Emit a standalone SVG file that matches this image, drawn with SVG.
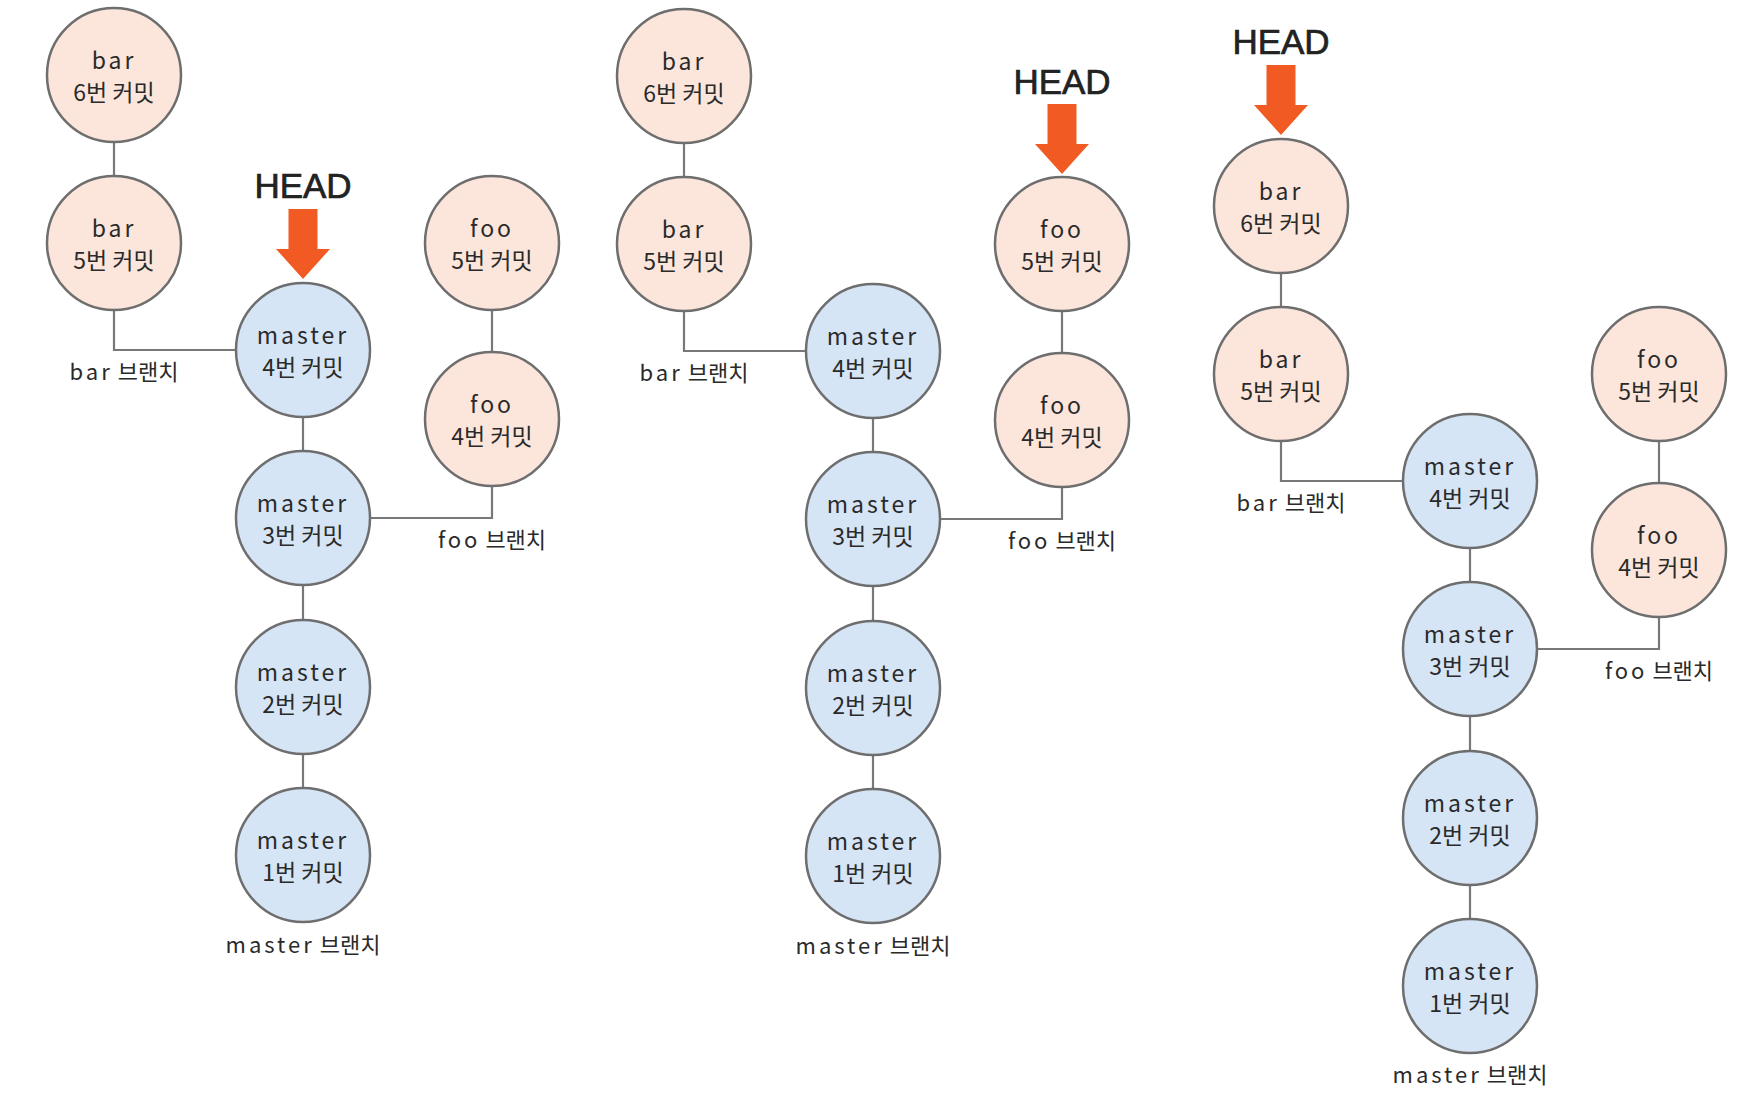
<svg xmlns="http://www.w3.org/2000/svg" width="1750" height="1115" viewBox="0 0 1750 1115">
<defs>
<style>
.peach{fill:#fce6dc;stroke:#6e6e6e;stroke-width:2.5}
.blue{fill:#d5e5f5;stroke:#6e6e6e;stroke-width:2.5}
.conn{fill:none;stroke:#787878;stroke-width:2.2}
.t{font-family:"Noto Sans CJK KR","Noto Sans",sans-serif;font-size:23px;fill:#2a2a2a;text-anchor:middle}
.lat{letter-spacing:3px}
.lbl{font-family:"Noto Sans CJK KR","Noto Sans",sans-serif;font-size:22px;fill:#2a2a2a;text-anchor:middle}
.head{font-family:"Liberation Sans",Arial,sans-serif;font-size:35px;fill:#222;stroke:#222;stroke-width:0.7;text-anchor:middle}
.arrow{fill:#f15a22}
</style>
</defs>
<rect width="1750" height="1115" fill="#ffffff"/>

<!-- Panel 1 -->
<g id="panel1">
<g id="p1-connectors">
<line class="conn" x1="114" y1="142" x2="114" y2="176"/>
<polyline class="conn" points="114,310 114,350 236,350"/>
<line class="conn" x1="303" y1="417" x2="303" y2="451"/>
<line class="conn" x1="303" y1="585" x2="303" y2="620"/>
<line class="conn" x1="303" y1="754" x2="303" y2="788"/>
<line class="conn" x1="492" y1="310" x2="492" y2="352"/>
<polyline class="conn" points="370,518 492,518 492,486"/>
</g>
<g id="p1-bar6"><circle class="peach" cx="114" cy="75" r="67"/><text class="t"><tspan class="lat" x="114" y="69">bar</tspan><tspan x="114" y="101">6번 커밋</tspan></text></g>
<g id="p1-bar5"><circle class="peach" cx="114" cy="243" r="67"/><text class="t"><tspan class="lat" x="114" y="237">bar</tspan><tspan x="114" y="269">5번 커밋</tspan></text></g>
<g id="p1-m4"><circle class="blue" cx="303" cy="350" r="67"/><text class="t"><tspan class="lat" x="303" y="344">master</tspan><tspan x="303" y="376">4번 커밋</tspan></text></g>
<g id="p1-m3"><circle class="blue" cx="303" cy="518" r="67"/><text class="t"><tspan class="lat" x="303" y="512">master</tspan><tspan x="303" y="544">3번 커밋</tspan></text></g>
<g id="p1-m2"><circle class="blue" cx="303" cy="687" r="67"/><text class="t"><tspan class="lat" x="303" y="681">master</tspan><tspan x="303" y="713">2번 커밋</tspan></text></g>
<g id="p1-m1"><circle class="blue" cx="303" cy="855" r="67"/><text class="t"><tspan class="lat" x="303" y="849">master</tspan><tspan x="303" y="881">1번 커밋</tspan></text></g>
<g id="p1-foo5"><circle class="peach" cx="492" cy="243" r="67"/><text class="t"><tspan class="lat" x="492" y="237">foo</tspan><tspan x="492" y="269">5번 커밋</tspan></text></g>
<g id="p1-foo4"><circle class="peach" cx="492" cy="419" r="67"/><text class="t"><tspan class="lat" x="492" y="413">foo</tspan><tspan x="492" y="445">4번 커밋</tspan></text></g>
<text class="lbl" x="124" y="380"><tspan class="lat">bar</tspan> 브랜치</text>
<text class="lbl" x="492" y="548"><tspan class="lat">foo</tspan> 브랜치</text>
<text class="lbl" x="303" y="953"><tspan class="lat">master</tspan> 브랜치</text>
<g id="p1-head">
<text class="head" x="303" y="198">HEAD</text>
<polygon class="arrow" points="288.5,209 317.5,209 317.5,249 330,249 303,279 276,249 288.5,249"/>
</g>
</g>

<!-- Panel 2 -->
<g id="panel2">
<g id="p2-connectors">
<line class="conn" x1="684" y1="143" x2="684" y2="177"/>
<polyline class="conn" points="684,311 684,351 806,351"/>
<line class="conn" x1="873" y1="418" x2="873" y2="452"/>
<line class="conn" x1="873" y1="586" x2="873" y2="621"/>
<line class="conn" x1="873" y1="755" x2="873" y2="789"/>
<line class="conn" x1="1062" y1="311" x2="1062" y2="353"/>
<polyline class="conn" points="940,519 1062,519 1062,487"/>
</g>
<g id="p2-bar6"><circle class="peach" cx="684" cy="76" r="67"/><text class="t"><tspan class="lat" x="684" y="70">bar</tspan><tspan x="684" y="102">6번 커밋</tspan></text></g>
<g id="p2-bar5"><circle class="peach" cx="684" cy="244" r="67"/><text class="t"><tspan class="lat" x="684" y="238">bar</tspan><tspan x="684" y="270">5번 커밋</tspan></text></g>
<g id="p2-m4"><circle class="blue" cx="873" cy="351" r="67"/><text class="t"><tspan class="lat" x="873" y="345">master</tspan><tspan x="873" y="377">4번 커밋</tspan></text></g>
<g id="p2-m3"><circle class="blue" cx="873" cy="519" r="67"/><text class="t"><tspan class="lat" x="873" y="513">master</tspan><tspan x="873" y="545">3번 커밋</tspan></text></g>
<g id="p2-m2"><circle class="blue" cx="873" cy="688" r="67"/><text class="t"><tspan class="lat" x="873" y="682">master</tspan><tspan x="873" y="714">2번 커밋</tspan></text></g>
<g id="p2-m1"><circle class="blue" cx="873" cy="856" r="67"/><text class="t"><tspan class="lat" x="873" y="850">master</tspan><tspan x="873" y="882">1번 커밋</tspan></text></g>
<g id="p2-foo5"><circle class="peach" cx="1062" cy="244" r="67"/><text class="t"><tspan class="lat" x="1062" y="238">foo</tspan><tspan x="1062" y="270">5번 커밋</tspan></text></g>
<g id="p2-foo4"><circle class="peach" cx="1062" cy="420" r="67"/><text class="t"><tspan class="lat" x="1062" y="414">foo</tspan><tspan x="1062" y="446">4번 커밋</tspan></text></g>
<text class="lbl" x="694" y="381"><tspan class="lat">bar</tspan> 브랜치</text>
<text class="lbl" x="1062" y="549"><tspan class="lat">foo</tspan> 브랜치</text>
<text class="lbl" x="873" y="954"><tspan class="lat">master</tspan> 브랜치</text>
<g id="p2-head">
<text class="head" x="1062" y="94">HEAD</text>
<polygon class="arrow" points="1047.5,104 1076.5,104 1076.5,144 1089,144 1062,174 1035,144 1047.5,144"/>
</g>
</g>

<!-- Panel 3 -->
<g id="panel3">
<g id="p3-connectors">
<line class="conn" x1="1281" y1="273" x2="1281" y2="307"/>
<polyline class="conn" points="1281,441 1281,481 1403,481"/>
<line class="conn" x1="1470" y1="548" x2="1470" y2="582"/>
<line class="conn" x1="1470" y1="716" x2="1470" y2="751"/>
<line class="conn" x1="1470" y1="885" x2="1470" y2="919"/>
<line class="conn" x1="1659" y1="441" x2="1659" y2="483"/>
<polyline class="conn" points="1537,649 1659,649 1659,617"/>
</g>
<g id="p3-bar6"><circle class="peach" cx="1281" cy="206" r="67"/><text class="t"><tspan class="lat" x="1281" y="200">bar</tspan><tspan x="1281" y="232">6번 커밋</tspan></text></g>
<g id="p3-bar5"><circle class="peach" cx="1281" cy="374" r="67"/><text class="t"><tspan class="lat" x="1281" y="368">bar</tspan><tspan x="1281" y="400">5번 커밋</tspan></text></g>
<g id="p3-m4"><circle class="blue" cx="1470" cy="481" r="67"/><text class="t"><tspan class="lat" x="1470" y="475">master</tspan><tspan x="1470" y="507">4번 커밋</tspan></text></g>
<g id="p3-m3"><circle class="blue" cx="1470" cy="649" r="67"/><text class="t"><tspan class="lat" x="1470" y="643">master</tspan><tspan x="1470" y="675">3번 커밋</tspan></text></g>
<g id="p3-m2"><circle class="blue" cx="1470" cy="818" r="67"/><text class="t"><tspan class="lat" x="1470" y="812">master</tspan><tspan x="1470" y="844">2번 커밋</tspan></text></g>
<g id="p3-m1"><circle class="blue" cx="1470" cy="986" r="67"/><text class="t"><tspan class="lat" x="1470" y="980">master</tspan><tspan x="1470" y="1012">1번 커밋</tspan></text></g>
<g id="p3-foo5"><circle class="peach" cx="1659" cy="374" r="67"/><text class="t"><tspan class="lat" x="1659" y="368">foo</tspan><tspan x="1659" y="400">5번 커밋</tspan></text></g>
<g id="p3-foo4"><circle class="peach" cx="1659" cy="550" r="67"/><text class="t"><tspan class="lat" x="1659" y="544">foo</tspan><tspan x="1659" y="576">4번 커밋</tspan></text></g>
<text class="lbl" x="1291" y="511"><tspan class="lat">bar</tspan> 브랜치</text>
<text class="lbl" x="1659" y="679"><tspan class="lat">foo</tspan> 브랜치</text>
<text class="lbl" x="1470" y="1083"><tspan class="lat">master</tspan> 브랜치</text>
<g id="p3-head">
<text class="head" x="1281" y="54">HEAD</text>
<polygon class="arrow" points="1266.5,65 1295.5,65 1295.5,105 1308,105 1281,135 1254,105 1266.5,105"/>
</g>
</g>
</svg>
